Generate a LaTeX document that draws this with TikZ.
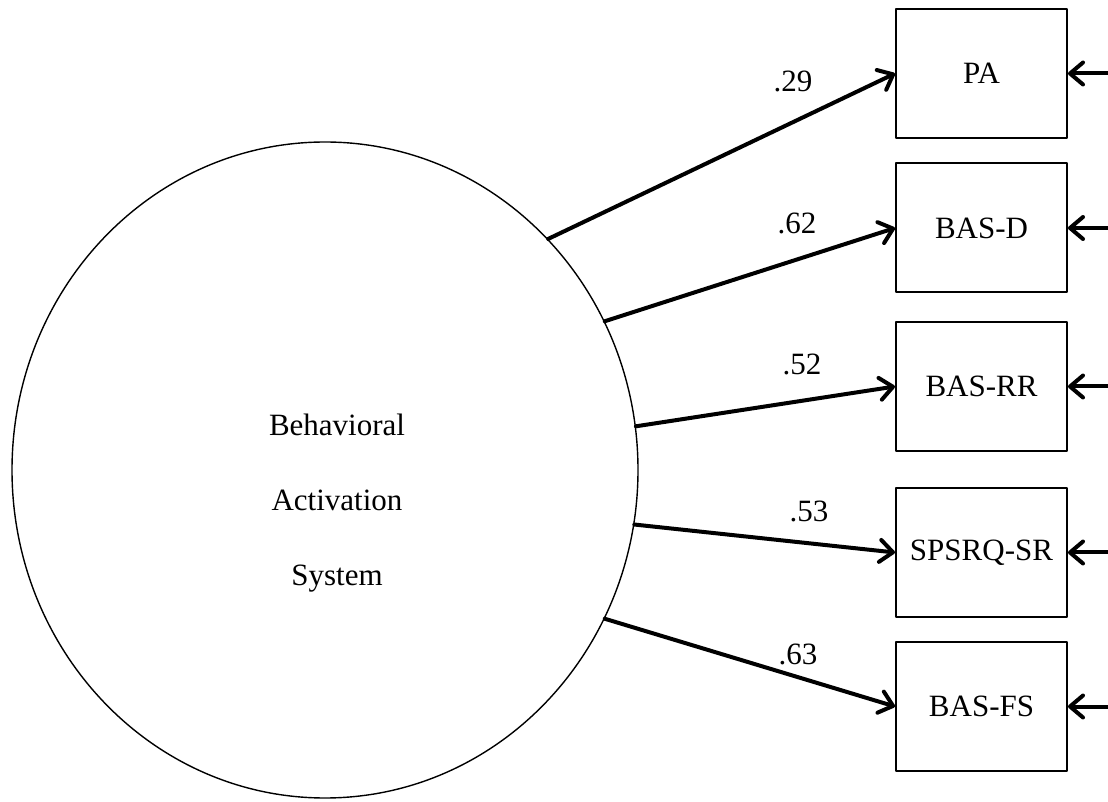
\documentclass[tikz,border=0pt]{standalone}
\usepackage{fontspec}
\setmainfont{Liberation Serif}
\usetikzlibrary{arrows.meta,shapes.geometric}

\begin{document}
\begin{tikzpicture}[x=1pt,y=1pt,line cap=round,line join=round,
  indicator/.style={draw,line width=2pt,minimum width=171pt,minimum height=129pt,inner sep=0pt,font=\fontsize{31}{36}\selectfont},
  loading/.style={line width=4pt,-{Straight Barb[length=13pt,width=22pt,round]}},
  weight/.style={inner sep=0pt,font=\fontsize{31}{36}\selectfont}]
\path[use as bounding box] (0,0) rectangle (1108,801);
% latent factor
\node[ellipse,draw,line width=1.4pt,minimum width=626pt,minimum height=656pt,inner sep=0pt] (bas) at (325,331) {};
\node[align=center,inner sep=0pt,font=\fontsize{31}{75}\selectfont] (bastext) at (337,298) {Behavioral\\Activation\\System};
% indicators
\node[indicator] (pa) at (981.5,727.5) {PA};
\node[indicator] (basd) at (981.5,573) {BAS-D};
\node[indicator] (basrr) at (981.5,414.5) {BAS-RR};
\node[indicator] (spsrq) at (981.5,248.5) {SPSRQ-SR};
\node[indicator] (basfs) at (981.5,94.5) {BAS-FS};
% error terms
\coordinate (paerr) at (1108,727.5);
\coordinate (basderr) at (1108,573);
\coordinate (basrrerr) at (1108,414.5);
\coordinate (spsrqerr) at (1108,248.5);
\coordinate (basfserr) at (1108,94.5);
% loadings
\draw[loading] (bas.46) -- (pa.west);
\draw[loading] (bas.28) -- (basd.west);
\draw[loading] (bas.8) -- (basrr.west);
\draw[loading] (bas.-10) -- (spsrq.west);
\draw[loading] (bas.-28) -- (basfs.west);
\foreach \ind in {pa,basd,basrr,spsrq,basfs}
  \draw[loading] (\ind err) -- (\ind.east);
\node[weight] (w29) at (793,720) {.29};
\node[weight] (w62) at (797,578) {.62};
\node[weight] (w52) at (802,437) {.52};
\node[weight] (w53) at (809,290) {.53};
\node[weight] (w63) at (798,147) {.63};
\end{tikzpicture}
\end{document}
